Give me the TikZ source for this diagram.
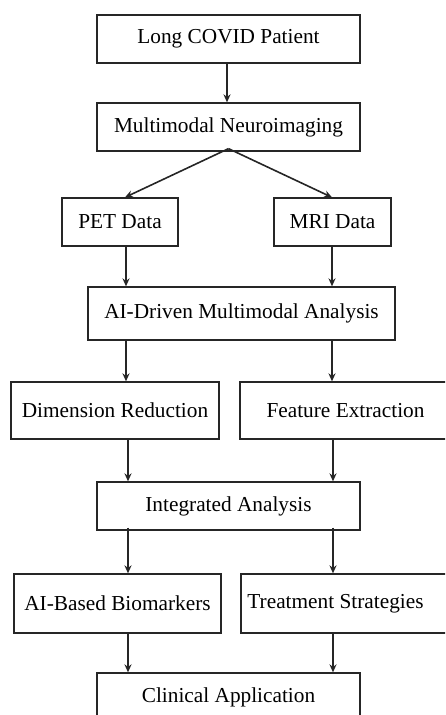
\documentclass[tikz,border=0pt]{standalone}
\usepackage{fontspec}
\setmainfont{Liberation Serif}
\usetikzlibrary{arrows.meta}
\begin{document}
\begin{tikzpicture}[x=1pt,y=-1pt,
  box/.style={draw=black!85,line width=1.3pt,inner sep=0pt,font=\fontsize{21.3}{25}\selectfont},
  arr/.style={draw=black!85,line width=1.6pt,-{Stealth[length=8pt,width=7pt]}}]
\useasboundingbox (0,0) rectangle (445,715);
\clip (0,0) rectangle (445,715);
\node[box,minimum width=263pt,minimum height=48pt] (top) at (228.5,39) {Long COVID Patient};
\node[box,minimum width=263pt,minimum height=48pt] (mm) at (228.5,127) {Multimodal Neuroimaging};
\node[box,minimum width=116pt,minimum height=48pt] (pet) at (120,222) {PET Data};
\node[box,minimum width=117pt,minimum height=48pt] (mri) at (332.5,222) {MRI Data};
\node[box,minimum width=307pt,minimum height=53pt] (ai) at (241.5,313.5) {AI-Driven Multimodal Analysis};
\node[box,minimum width=208pt,minimum height=57pt] (dr) at (115,410.5) {Dimension Reduction};
\node[box,minimum width=211pt,minimum height=57pt] (fe) at (345.5,410.5) {Feature Extraction};
\node[box,minimum width=263pt,minimum height=48pt] (ia) at (228.5,506) {Integrated Analysis};
\node[box,minimum width=207pt,minimum height=59pt] (ab) at (117.5,603.5) {AI-Based Biomarkers};
\node[box,minimum width=210pt,minimum height=59pt] (ts) at (346,603.5) {};
\node[font=\fontsize{21.3}{25}\selectfont,inner sep=0pt] (tst) at (335.5,603.5) {Treatment Strategies};
\node[box,minimum width=263pt,minimum height=48pt] (ca) at (228.5,697) {Clinical Application};
\coordinate (split) at ([yshift=3]mm.south);
\draw[arr] ([xshift=-1.5]top.south) -- ([xshift=-1.5]mm.north);
\draw[arr] (split) -- ([xshift=5]pet.north);
\draw[arr] (split) -- ([xshift=-0.5]mri.north);
\draw[arr] ([xshift=6]pet.south) -- ([xshift=6]pet.south |- ai.north);
\draw[arr] ([xshift=-0.5]mri.south) -- ([xshift=-0.5]mri.south |- ai.north);
\draw[arr] ([xshift=6]pet.south |- ai.south) -- ([xshift=6]pet.south |- dr.north);
\draw[arr] ([xshift=-0.5]mri.south |- ai.south) -- ([xshift=-0.5]mri.south |- fe.north);
\draw[arr] ([xshift=13]dr.south) -- ([xshift=13]dr.south |- ia.north);
\draw[arr] ([xshift=-12.5]fe.south) -- ([xshift=-12.5]fe.south |- ia.north);
\draw[arr] ([xshift=13,yshift=3]dr.south |- ia.south) -- ([xshift=13]dr.south |- ab.north);
\draw[arr] ([xshift=-12.5,yshift=3]fe.south |- ia.south) -- ([xshift=-12.5]fe.south |- ts.north);
\draw[arr] ([xshift=10.5]ab.south) -- ([xshift=10.5]ab.south |- ca.north);
\draw[arr] ([xshift=-13]ts.south) -- ([xshift=-13]ts.south |- ca.north);
\end{tikzpicture}
\end{document}
